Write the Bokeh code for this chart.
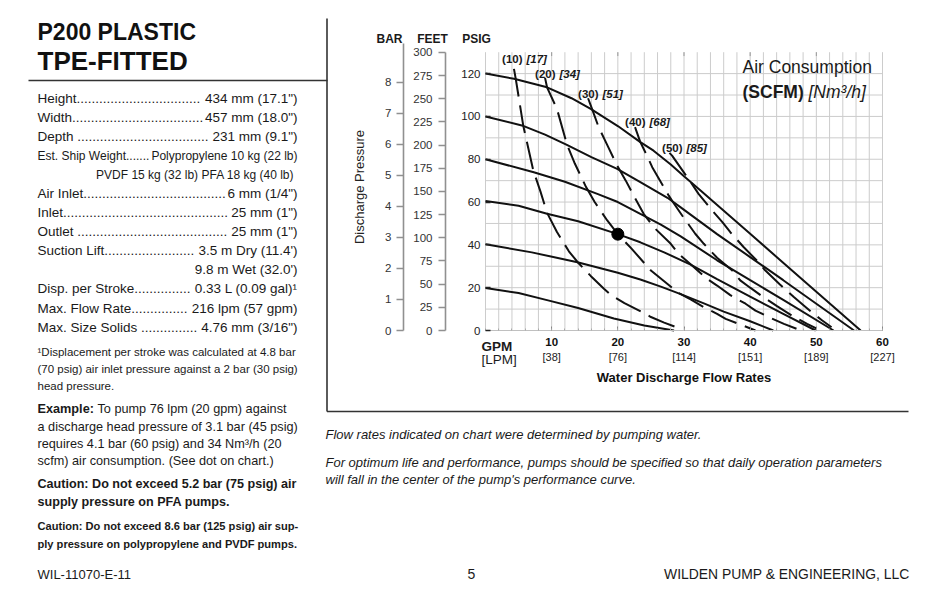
from bokeh.plotting import figure
from bokeh.models import Range1d, LinearAxis, FixedTicker, Label
from bokeh.embed import file_html
from bokeh.resources import INLINE

# ---------------- data ----------------
gpm_ticks = [10, 20, 30, 40, 50, 60]
lpm_labels = ["[38]", "[76]", "[114]", "[151]", "[189]", "[227]"]
psig_ticks = [0, 20, 40, 60, 80, 100, 120]
feet_ticks = [0, 25, 50, 75, 100, 125, 150, 175, 200, 225, 250, 275, 300]
bar_ticks = [0, 1, 2, 3, 4, 5, 6, 7, 8]
grid_gpm = list(range(0, 61, 2))
grid_psig = list(range(0, 121, 10))

# air inlet pressure curves (solid): x = GPM, y = discharge PSIG
air120_gpm = [0, 4.3, 9.3, 13, 15.9, 20, 23.4, 25.4, 28, 30, 32.5, 40, 44.6, 50, 56.7]
air120_psig = [120, 117.6, 113.6, 108.5, 103.5, 95.5, 88, 84, 77.5, 72, 65.4, 45.2, 32.7, 18.1, 0]
air100_gpm = [0, 5.5, 9, 12.3, 16, 19.9, 23.4, 27.5, 29.5, 35, 40, 45, 50, 55.7]
air100_psig = [100, 95.8, 91.5, 86.7, 81, 75.5, 69.3, 62, 57.5, 45, 34.3, 23.5, 12.5, 0]
air80_gpm = [0, 7.3, 12, 16.9, 20, 23.4, 26.5, 29.5, 35, 40, 45, 52.6]
air80_psig = [80, 73.9, 69.5, 63.8, 60, 54.5, 49.5, 44, 32.8, 23.5, 14.3, 0]
air60_gpm = [0, 5, 9.3, 14, 20, 23.4, 27, 31, 35, 40, 45, 49.9]
air60_psig = [60.5, 58.3, 54.5, 51, 45, 41.2, 36.5, 30.8, 24, 15.8, 7.8, 0]
air40_gpm = [0, 7, 13.9, 20, 23.4, 26.5, 29.5, 33, 36, 40, 43.5]
air40_psig = [40.3, 36.5, 31.9, 27, 23.8, 20.5, 17, 12.7, 8.8, 4.3, 0]
air20_gpm = [0, 5, 9.3, 14, 19.4, 24, 28.5]
air20_psig = [19.8, 17.5, 14.2, 10.5, 5.6, 2.3, 0]

# air consumption curves (dashed), SCFM
scfm10_gpm = [4.3, 4.6, 5.7, 7.2, 8.3, 9.3, 10.8, 12.6, 13.9, 15.9, 17.9, 19, 21, 23.7, 25, 27, 29.5]
scfm10_psig = [122.2, 117, 95.8, 75, 65, 55, 46, 37, 32, 25.5, 19.5, 16.5, 12.8, 8.5, 6.3, 3.7, 0.8]
scfm20_gpm = [9.0, 9.3, 10.8, 12.3, 13.5, 15.2, 16.5, 18.4, 20, 22, 25, 27, 29.2, 31, 33, 35, 36.3, 38.5, 40.8]
scfm20_psig = [118, 113.6, 103.5, 87, 78, 67, 60, 51.4, 45, 38.5, 28, 23, 17.5, 14.5, 10.9, 7.8, 5.4, 2.8, 0]
scfm30_gpm = [15.5, 16.1, 17.1, 18.5, 19.9, 21.2, 22.4, 23.9, 25.5, 28, 29.2, 31, 33.5, 35, 37, 39.3, 40.8, 43, 45.1, 47]
scfm30_psig = [108.5, 103.5, 95, 86, 77, 70, 63, 54.5, 48, 40.5, 35.8, 31, 24.1, 21, 16.5, 12.5, 9.3, 6, 3.1, 0.8]
scfm40_gpm = [22.6, 23.4, 24.4, 25.2, 27.7, 28.5, 30, 31.7, 33, 35, 37.3, 38.5, 40, 42, 44, 46.3, 48.6, 50]
scfm40_psig = [95, 88, 81.7, 76.3, 63, 59.2, 52.5, 45.2, 40.5, 34, 28, 23.4, 20, 15.6, 11.5, 7, 3.1, 1]
scfm50_gpm = [27.8, 28.2, 31, 32.2, 34, 35.8, 37, 39, 41, 42.3, 44.5, 46.6, 48.1, 49.5, 50.9, 52.3]
scfm50_psig = [83, 81.7, 69.3, 63.8, 57, 50.6, 45.9, 39, 32.7, 28, 21.5, 15.6, 11.7, 8, 4.7, 1.5]

scfm_values = [10, 20, 30, 40, 50]
nm3h_values = [17, 34, 51, 68, 85]

example_gpm = [20]
example_psig = [45]

spec_names = ["Height", "Width", "Depth ", "Est. Ship Weight", "", "Air Inlet", "Inlet",
              "Outlet ", "Suction Lift", "", "Disp. per Stroke", "Max. Flow Rate", "Max. Size Solids "]
spec_values = ["434 mm (17.1\")", "457 mm (18.0\")", "231 mm (9.1\")", "Polypropylene 10 kg (22 lb)",
               "PVDF 15 kg (32 lb)  PFA 18 kg (40 lb)", "6 mm (1/4\")", "25 mm (1\")", "25 mm (1\")",
               "3.5 m Dry (11.4')", "9.8 m Wet (32.0')", "0.33 L (0.09 gal)\u00b9", "216 lpm (57 gpm)",
               "4.76 mm (3/16\")"]

# ---------------- layout (page pixels) ----------------
PW, PH = 936, 582
X0, X60 = 485.0, 882.0        # page x of 0 and 60 GPM
Y0, Y130 = 330.0, 51.7        # page y of 0 and 130 PSIG
kx = (X60 - X0) / 60.0
ky = (Y0 - Y130) / 130.0
psig_lo, psig_hi = (Y0 - PH) / ky, Y0 / ky

SANS = "Liberation Sans"
INK = "#1a1a1a"

p = figure(width=PW, height=PH, x_range=Range1d(0, PW), y_range=Range1d(PH, 0),
           output_backend="svg", toolbar_location=None, x_axis_type=None, y_axis_type=None)
p.min_border = 0
p.min_border_left = p.min_border_right = p.min_border_top = p.min_border_bottom = 0
p.outline_line_color = None
p.background_fill_color = "white"
p.border_fill_color = "white"
p.xgrid.visible = False
p.ygrid.visible = False

p.extra_x_ranges = {"gpm": Range1d(-X0 / kx, (PW - X0) / kx)}
p.extra_y_ranges = {"psig": Range1d(psig_lo, psig_hi),
                    "feet": Range1d(psig_lo * 2.31, psig_hi * 2.31),
                    "bar": Range1d(psig_lo / 14.5038, psig_hi / 14.5038)}
C = dict(x_range_name="gpm", y_range_name="psig")

# grid (drawn in chart coordinates)
p.segment(x0=grid_gpm, y0=[0] * len(grid_gpm), x1=grid_gpm, y1=[130] * len(grid_gpm),
          line_color="#cccccc", line_width=1, **C)
p.segment(x0=[0] * len(grid_psig), y0=grid_psig, x1=[60] * len(grid_psig), y1=grid_psig,
          line_color="#cccccc", line_width=1, **C)
p.segment(x0=gpm_ticks[:-1], y0=[130] * 5, x1=gpm_ticks[:-1], y1=[128.2] * 5,
          line_color="#999", line_width=1, **C)

# axes at fixed places
ax_psig = LinearAxis(fixed_location=0, bounds=(0, 130), ticker=FixedTicker(ticks=psig_ticks, minor_ticks=[]),
                     axis_line_color=None, major_tick_in=5, major_tick_out=0,
                     major_tick_line_color="#222", major_tick_line_width=1.5,
                     minor_tick_line_color=None, major_label_standoff=5,
                     major_label_text_font=SANS, major_label_text_font_size="11.5px",
                     major_label_text_color="#222", **C)
p.add_layout(ax_psig, "left")

ax_feet = LinearAxis(fixed_location=(445 - X0) / kx, bounds=(0, 300), x_range_name="gpm", y_range_name="feet",
                     ticker=FixedTicker(ticks=feet_ticks, minor_ticks=[]),
                     axis_line_color="#909090", axis_line_width=1.6,
                     major_tick_out=7, major_tick_in=0, major_tick_line_color="#909090",
                     major_tick_line_width=1.6, minor_tick_line_color=None,
                     major_label_standoff=6, major_label_text_font=SANS,
                     major_label_text_font_size="11.5px", major_label_text_color="#333")
p.add_layout(ax_feet, "left")

ax_bar = LinearAxis(fixed_location=(403 - X0) / kx, bounds=(0, 9.24), x_range_name="gpm", y_range_name="bar",
                    ticker=FixedTicker(ticks=bar_ticks, minor_ticks=[]),
                    axis_line_color="#909090", axis_line_width=1.6,
                    major_tick_out=7, major_tick_in=0, major_tick_line_color="#909090",
                    major_tick_line_width=1.6, minor_tick_line_color=None,
                    major_label_standoff=5, major_label_text_font=SANS,
                    major_label_text_font_size="11.5px", major_label_text_color="#333",
                    axis_label="Discharge Pressure", axis_label_text_font=SANS,
                    axis_label_text_font_size="13px", axis_label_text_font_style="normal",
                    axis_label_text_color="#222", axis_label_standoff=15)
p.add_layout(ax_bar, "left")

ax_gpm = LinearAxis(fixed_location=0, bounds=(0, 60),
                    ticker=FixedTicker(ticks=gpm_ticks, minor_ticks=grid_gpm),
                    axis_line_color="#c0c0c0", major_tick_in=4, major_tick_out=0,
                    minor_tick_in=2, minor_tick_out=0, major_tick_line_color="#888",
                    minor_tick_line_color="#aaa", major_label_standoff=7,
                    major_label_text_font=SANS, major_label_text_font_style="bold",
                    major_label_text_font_size="11.5px", major_label_text_color="#111", **C)
p.add_layout(ax_gpm, "below")

ax_lpm = LinearAxis(fixed_location=0, bounds=(0, 60), ticker=FixedTicker(ticks=gpm_ticks, minor_ticks=[]),
                    major_label_overrides={t: l for t, l in zip(gpm_ticks, lpm_labels)},
                    axis_line_color=None, major_tick_line_color=None, minor_tick_line_color=None,
                    major_tick_out=0, major_tick_in=0, major_label_standoff=20,
                    major_label_text_font=SANS, major_label_text_font_size="11px",
                    major_label_text_color="#222",
                    axis_label="Water Discharge Flow Rates", axis_label_text_font=SANS,
                    axis_label_text_font_style="bold", axis_label_text_font_size="13px",
                    axis_label_text_color="#111", axis_label_standoff=4, **C)
p.add_layout(ax_lpm, "below")

# curves
for gx, gy in [(air120_gpm, air120_psig), (air100_gpm, air100_psig), (air80_gpm, air80_psig),
               (air60_gpm, air60_psig), (air40_gpm, air40_psig), (air20_gpm, air20_psig)]:
    p.line(gx, gy, line_width=2, line_color="#111", **C)

for gx, gy in [(scfm10_gpm, scfm10_psig), (scfm20_gpm, scfm20_psig), (scfm30_gpm, scfm30_psig),
               (scfm40_gpm, scfm40_psig), (scfm50_gpm, scfm50_psig)]:
    p.line(gx, gy, line_width=2, line_color="#111", line_dash="28 9", **C)

p.scatter(example_gpm, example_psig, size=12, color="black", **C)


# ---------------- text helpers (page coordinates) ----------------
def txt(px, py, s, size, style="normal", align="left", font=SANS, color=INK):
    p.add_layout(Label(x=px, y=py, text=s, text_font=font, text_font_size=f"{size}px",
                       text_font_style=style, text_align=align, text_baseline="middle",
                       text_color=color))


def rule(xs0, ys0, xs1, ys1, w=1.5, color="#333"):
    p.segment(x0=xs0, y0=ys0, x1=xs1, y1=ys1, line_width=w, line_color=color)


W = {' ': 278, '!': 278, '"': 355, '&': 667, "'": 191, '(': 333, ')': 333, ',': 278, '-': 333,
     '.': 278, '/': 278, ':': 278, '\u00b9': 333}
for ch in "0123456789":
    W[ch] = 556
W.update(dict(zip("ABCDEFGHIJKLMNOPQRSTUVWXYZ",
                  [667, 667, 722, 722, 667, 611, 778, 722, 278, 500, 667, 556, 833, 722, 778, 667,
                   778, 722, 667, 611, 722, 667, 944, 667, 667, 611])))
W.update(dict(zip("abcdefghijklmnopqrstuvwxyz",
                  [556, 556, 500, 556, 556, 278, 556, 556, 222, 222, 500, 222, 833, 556, 556, 556,
                   556, 333, 500, 278, 556, 500, 722, 500, 500, 500])))


def tw(s, size):
    return sum(W.get(c, 556) for c in s) / 1000.0 * size


# ---------------- chart annotations ----------------
txt(389, 38, "BAR", 12, "bold", align="center")
txt(432, 38, "FEET", 12, "bold", align="center")
txt(476, 38, "PSIG", 12, "bold", align="center")

txt(742, 66, "Air Consumption", 17.5)
txt(742, 91, "(SCFM)", 17.5, "bold")
txt(808, 91, "[Nm\u00b3/h]", 17.5, "italic")

label_pos = [(522, 58), (555, 73), (598, 93), (645, 121), (682, 147)]
for (lx, ly), s, n in zip(label_pos, scfm_values, nm3h_values):
    txt(lx, ly, f"({s})", 11.5, "bold", align="right")
    txt(lx + 4, ly, f"[{n}]", 11.5, "bold italic")

txt(481, 346, "GPM", 13.5, "bold")
txt(481, 358.5, "[LPM]", 13.5)

# ---------------- page texts ----------------
txt(37, 31, "P200 PLASTIC", 23, "bold", color="#111")
txt(37, 60, "TPE-FITTED", 26, "bold", color="#111")
rule([28, 326.5, 326.5], [80, 18, 411], [327, 326.5, 908], [80, 411, 411], 1.6, "#333")

row_y = [98, 117, 136, 155, 174, 193, 212, 231, 249.5, 268.5, 288, 307.5, 326.5]
for name, val, y in zip(spec_names, spec_values, row_y):
    size = 12 if (name.startswith("Est") or val.startswith("PVDF")) else 13.5
    if name:
        vstart = 297 - tw(val, size)
        n = int((vstart - 1.5 - 37 - tw(name, size)) / tw(".", size))
        txt(37, y, name + "." * max(n, 0), size)
    txt(297, y, val, size, align="right")

txt(37, 351.5, "\u00b9Displacement per stroke was calculated at 4.8 bar", 11.5)
txt(37, 368, "(70 psig) air inlet pressure against a 2 bar (30 psig)", 11.5)
txt(37, 385, "head pressure.", 11.5)

txt(37, 408.5, "Example:", 12.7, "bold")
txt(97, 408.5, "To pump 76 lpm (20 gpm) against", 12.7)
txt(37, 426.5, "a discharge head pressure of 3.1 bar (45 psig)", 12.7)
txt(37, 443.5, "requires 4.1 bar (60 psig) and 34 Nm\u00b3/h (20", 12.7)
txt(37, 460, "scfm) air consumption. (See dot on chart.)", 12.7)

txt(37, 483.5, "Caution: Do not exceed 5.2 bar (75 psig) air", 12.6, "bold")
txt(37, 501.5, "supply pressure on PFA pumps.", 12.6, "bold")
txt(37, 525, "Caution: Do not exceed 8.6 bar (125 psig) air sup-", 11.1, "bold")
txt(37, 543, "ply pressure on polypropylene and PVDF pumps.", 11.1, "bold")

txt(325, 434, "Flow rates indicated on chart were determined by pumping water.", 13, "italic")
txt(325, 462, "For optimum life and performance, pumps should be specified so that daily "
    "operation parameters", 13, "italic")
txt(325, 479, "will fall in the center of the pump's performance curve.", 13, "italic")

txt(37, 573.5, "WIL-11070-E-11", 13)
txt(471, 573.5, "5", 14, align="center")
txt(909, 573.5, "WILDEN PUMP & ENGINEERING, LLC", 13.9, align="right")

open("out.html", "w").write(file_html(p, INLINE))
